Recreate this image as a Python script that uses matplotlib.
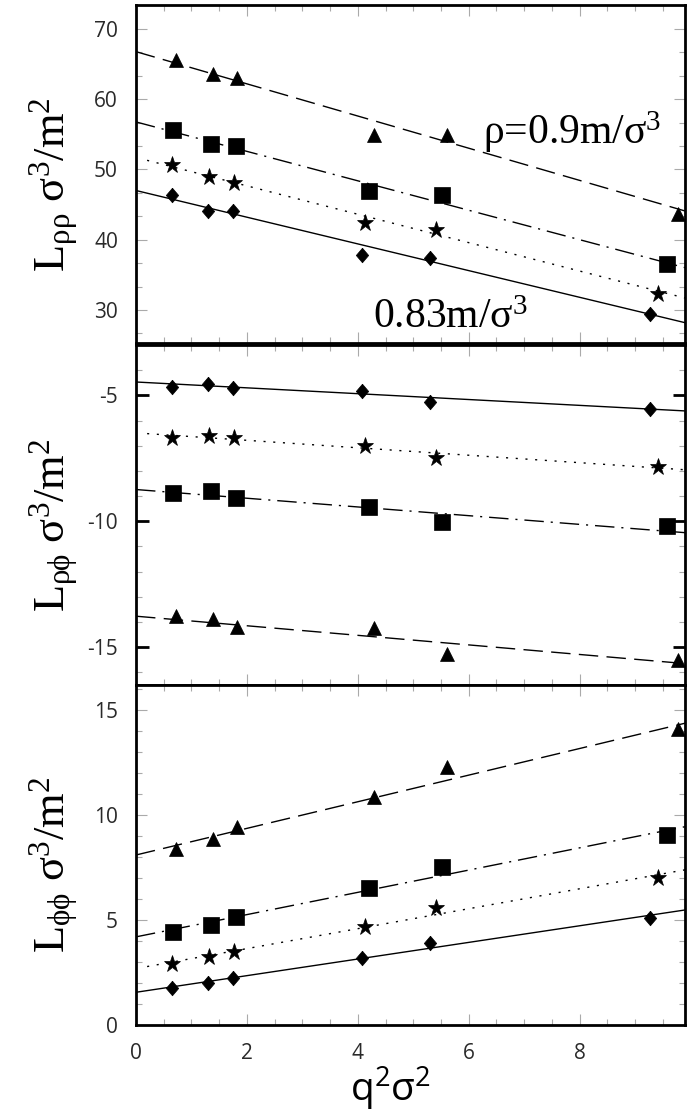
import numpy as np
import matplotlib
matplotlib.use('Agg')
from matplotlib import pyplot as plt
from matplotlib.ticker import MultipleLocator

plt.rcParams['font.family'] = ['Open Sans', 'DejaVu Sans']
plt.rcParams['mathtext.default'] = 'regular'
plt.rcParams['axes.unicode_minus'] = False

# q^2 sigma^2 of each symbol set
q_diamond = [0.65, 1.30, 1.74, 4.08, 5.31, 9.27]
q_star = [0.65, 1.31, 1.77, 4.13, 5.41, 9.41]
q_square = [0.67, 1.35, 1.81, 4.21, 5.51, 9.58]
q_triangle = [0.72, 1.39, 1.83, 4.30, 5.61, 9.78]

# L_rho rho
rr_diamond = [46.3, 44.1, 44.1, 37.8, 37.4, 29.4]
rr_star = [50.7, 48.9, 48.0, 42.4, 41.4, 32.3]
rr_square = [55.6, 53.6, 53.3, 47.0, 46.3, 36.6]
rr_triangle = [65.6, 63.6, 63.0, 54.9, 54.9, 43.7]

# L_rho phi
rp_diamond = [-4.67, -4.56, -4.71, -4.83, -5.27, -5.53]
rp_star = [-6.68, -6.61, -6.68, -7.02, -7.47, -7.84]
rp_square = [-8.88, -8.80, -9.06, -9.43, -10.03, -10.20]
rp_triangle = [-13.77, -13.90, -14.19, -14.22, -15.28, -15.49]

# L_phi phi
pp_diamond = [1.75, 1.99, 2.22, 3.18, 3.89, 5.08]
pp_star = [2.90, 3.22, 3.49, 4.68, 5.56, 6.99]
pp_square = [4.44, 4.76, 5.13, 6.51, 7.51, 9.05]
pp_triangle = [8.37, 8.84, 9.44, 10.87, 12.30, 14.08]

# linear fits: (intercept, slope)
fit_rr = [(47.0, -1.90), (51.7, -2.02), (56.76, -2.095), (66.76, -2.29)]
fit_rp = [(-4.47, -0.116), (-6.49, -0.148), (-8.74, -0.173), (-13.77, -0.19)]
fit_pp = [(1.56, 0.396), (2.69, 0.475), (4.2, 0.53), (8.1, 0.634)]

xs = [q_diamond, q_star, q_square, q_triangle]
diamond = [(0, 1), (0.85, 0), (0, -1), (-0.85, 0), (0, 1)]
markers = [diamond, '*', 's', '^']
msizes = [10.5, 12.5, 11.5, 9.5]
dashes = [None, (1.5, 5.5), (14, 5, 1.5, 5), (14, 6)]
x_start = [0.0, 0.2, 0.0, 0.0]
x_end = 9.9

serif = ['Liberation Serif', 'DejaVu Serif']


def panel(ax, ys, fits, ylim, major, minor, label, dark_major=False):
    for i in range(4):
        ax.plot(xs[i], ys[i], ls='none', marker=markers[i], ms=msizes[i],
                color='k', mec='k', mew=0.5)
        b, m = fits[i]
        xl = np.array([x_start[i], x_end])
        ln, = ax.plot(xl, b + m * xl, color='k', lw=1.0)
        if dashes[i] is not None:
            ln.set_dashes(dashes[i])
    ax.set_xlim(0, 9.9)
    ax.set_ylim(*ylim)
    ax.xaxis.set_major_locator(MultipleLocator(2))
    ax.xaxis.set_minor_locator(MultipleLocator(0.5))
    ax.yaxis.set_major_locator(MultipleLocator(major))
    ax.yaxis.set_minor_locator(MultipleLocator(minor))
    ax.tick_params(which='both', direction='in', top=True, right=True,
                   labelsize=15, labelcolor='#2a2a2a', width=0.8,
                   color='#aaaaaa', pad=13)
    ax.tick_params(which='major', length=8)
    ax.tick_params(which='minor', length=4)
    if dark_major:
        ax.tick_params(axis='y', which='major', color='k', width=2.0,
                       length=9)
    for s in ax.spines.values():
        s.set_linewidth(2.0)
    ax.set_ylabel(label, family=serif, fontsize=32)
    ax.yaxis.set_label_coords(-0.100, 0.47)


fig = plt.figure(figsize=(6.94, 11.15), dpi=100)
l, w = 0.196, 0.791
ax1 = fig.add_axes([l, 0.6924, w, 0.3031])
ax2 = fig.add_axes([l, 0.3857, w, 0.3049])
ax3 = fig.add_axes([l, 0.0807, w, 0.3050])

panel(ax1, [rr_diamond, rr_star, rr_square, rr_triangle], fit_rr,
      (25.3, 73.4), 10, 10 / 3, 'L$_{ρρ}$ σ$^3$/m$^2$')
panel(ax2, [rp_diamond, rp_star, rp_square, rp_triangle], fit_rp,
      (-16.5, -3.0), 5, 1, 'L$_{ρϕ}$ σ$^3$/m$^2$', dark_major=True)
panel(ax3, [pp_diamond, pp_star, pp_square, pp_triangle], fit_pp,
      (0, 16.2), 5, 1, 'L$_{ϕϕ}$ σ$^3$/m$^2$')

ax1.tick_params(labelbottom=False)
ax2.tick_params(labelbottom=False)

ax1.text(6.25, 53.6, 'ρ=0.9m/σ$^3$', family=serif, fontsize=30,
         va='baseline')
ax1.text(4.27, 27.4, '0.83m/σ$^3$', family=serif, fontsize=30,
         va='baseline')

ax3.set_xlabel('q$^2$σ$^2$', fontsize=28)
ax3.xaxis.set_label_coords(0.463, -0.118)

fig.savefig('out.png', dpi=100)
